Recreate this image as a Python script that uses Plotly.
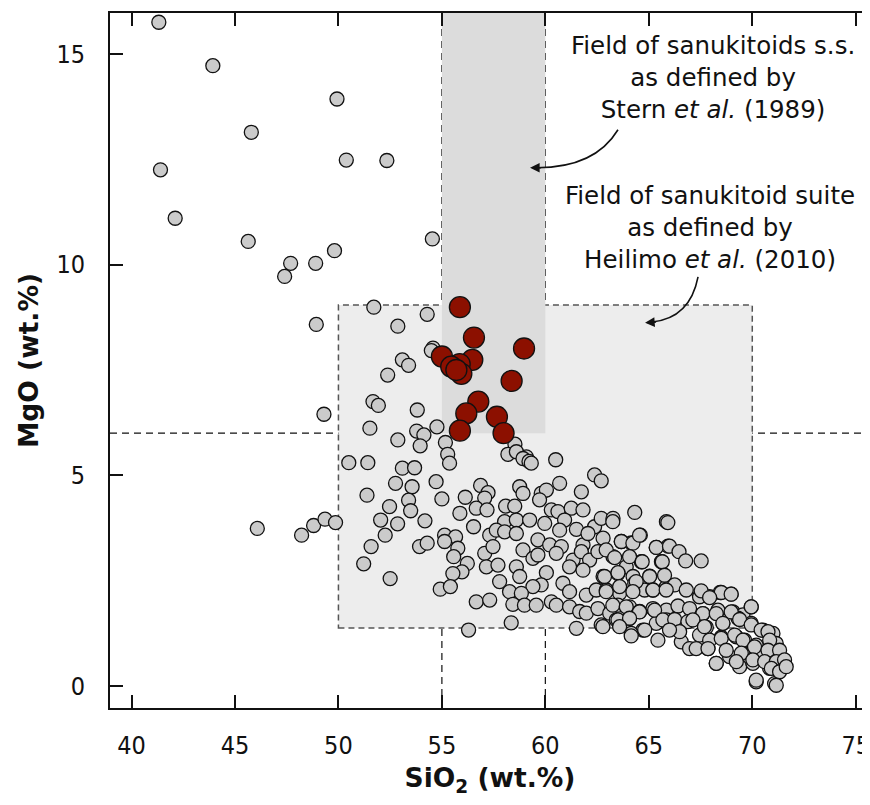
import plotly.graph_objects as go

# ---------------- data ----------------
# grey: comparison samples, grouped by region of the diagram
sio2_upper = [41.32, 43.93, 49.93, 45.79, 41.40, 50.38, 52.34, 42.11, 45.64, 47.69, 48.90, 47.40, 49.81, 54.54]
mgo_upper = [15.75, 14.72, 13.93, 13.14, 12.25, 12.48, 12.47, 11.10, 10.55, 10.03, 10.03, 9.72, 10.33, 10.61]

sio2_mid = [51.71, 54.29, 48.93, 52.87, 54.57, 54.49, 53.09, 53.39, 52.38, 51.67,
            51.93, 49.30, 53.81, 51.52, 54.76, 53.78, 54.13, 52.87, 53.95, 55.17,
            55.28, 55.37, 50.50, 51.42, 53.09, 53.68, 58.53, 59.08]
mgo_mid = [8.99, 8.82, 8.58, 8.54, 8.02, 7.96, 7.74, 7.61, 7.38, 6.75,
           6.66, 6.45, 6.55, 6.12, 6.15, 6.05, 5.96, 5.84, 5.70, 5.78,
           5.50, 5.29, 5.30, 5.30, 5.17, 5.18, 5.74, 5.44]

sio2_left = [46.08, 48.22, 48.80, 49.35, 49.86, 51.38, 52.76, 53.56, 52.47, 53.39,
             53.49, 52.04, 52.86, 52.26, 54.18, 51.58, 53.92, 54.29, 51.22, 52.50,
             54.72, 55.00, 56.13, 55.87, 55.13, 55.66, 55.13, 55.77, 55.57, 56.23,
             55.97, 55.53, 54.92, 55.41, 56.29]
mgo_left = [3.74, 3.58, 3.81, 3.96, 3.88, 4.53, 4.81, 4.73, 4.26, 4.41,
            4.16, 3.94, 3.85, 3.58, 3.92, 3.31, 3.31, 3.39, 2.90, 2.55,
            4.85, 4.44, 4.48, 4.10, 3.58, 3.54, 3.43, 3.27, 3.07, 2.91,
            2.71, 2.67, 2.30, 2.36, 1.33]

sio2_core = [58.19, 58.60, 58.92, 59.21, 59.32, 60.50, 62.38, 62.70, 56.87, 57.23,
             57.07, 56.66, 57.18, 58.76, 58.92, 59.80, 60.05, 60.69, 61.74, 59.72,
             58.08, 58.52, 58.03, 58.60, 59.24, 59.97, 60.29, 60.61, 61.25, 61.82,
             60.93, 60.69, 61.50, 62.38, 62.70, 63.27, 64.32, 65.85, 56.53, 57.31,
             57.63, 58.03, 58.60, 59.64, 60.21, 60.77, 61.82, 62.06, 62.79, 63.67,
             64.15, 64.59, 65.36, 65.93, 57.07, 57.47, 58.92, 59.40, 59.64, 60.53,
             61.34, 61.74, 62.14, 62.54, 63.27, 63.91, 64.64, 65.61, 57.15, 57.71,
             58.60, 60.05, 61.17, 61.82, 62.79, 63.51, 64.24, 65.04, 57.79, 58.76,
             59.80, 59.40, 60.85, 61.17, 61.98, 62.46, 62.95, 63.59, 64.32, 64.80,
             65.20, 65.85, 56.66, 57.31, 58.27, 58.84, 58.43, 58.99, 59.56, 60.29,
             60.53, 61.17, 61.66, 61.98, 62.54, 63.11, 63.51, 64.07, 64.56, 65.20,
             65.85, 58.35, 61.50, 62.70, 63.43, 64.07, 64.72, 65.36, 65.85, 64.15]
mgo_core = [5.50, 5.56, 5.40, 5.33, 5.29, 5.37, 5.01, 4.87, 4.76, 4.59,
            4.46, 4.22, 4.18, 4.73, 4.57, 4.57, 4.65, 4.81, 4.61, 4.42,
            4.27, 4.27, 3.90, 3.94, 3.94, 3.86, 4.18, 4.14, 4.22, 4.18,
            3.94, 3.70, 3.72, 3.78, 3.98, 3.98, 4.12, 3.90, 3.78, 3.58,
            3.70, 3.66, 3.62, 3.47, 3.35, 3.31, 3.35, 3.62, 3.51, 3.43,
            3.40, 3.58, 3.29, 3.32, 3.15, 3.31, 3.23, 3.03, 3.11, 3.15,
            2.99, 3.19, 2.99, 3.19, 3.07, 2.83, 2.95, 2.95, 2.83, 2.87,
            2.83, 2.69, 2.83, 2.75, 2.60, 2.67, 2.60, 2.61, 2.48, 2.60,
            2.40, 2.36, 2.44, 2.24, 2.16, 2.28, 2.28, 2.20, 2.44, 2.28,
            2.28, 2.36, 2.00, 2.04, 2.24, 2.20, 1.94, 1.92, 1.92, 2.00,
            1.92, 1.88, 1.77, 1.73, 1.84, 1.73, 1.92, 1.88, 1.77, 1.84,
            1.80, 1.50, 1.37, 1.45, 1.57, 1.61, 1.33, 1.49, 1.57, 1.25]

sio2_tail = [63.26, 65.92, 63.67, 64.23, 64.55, 65.36, 66.00, 66.46, 62.94, 63.35,
             64.07, 64.68, 65.65, 66.78, 67.53, 62.86, 63.51, 64.39, 65.04, 65.76,
             66.25, 66.81, 67.45, 67.94, 68.45, 68.98, 69.95, 62.94, 63.59, 64.23,
             65.20, 65.84, 63.26, 63.91, 64.55, 65.28, 66.41, 66.97, 67.62, 68.34,
             69.07, 69.55, 62.78, 63.51, 64.07, 64.80, 65.68, 66.25, 66.89, 67.78,
             68.58, 69.31, 69.95, 70.52, 71.00, 63.59, 64.15, 65.44, 66.57, 66.97,
             67.86, 68.50, 69.23, 69.63, 70.19, 70.76, 71.16, 68.26, 68.90, 69.55,
             69.39, 70.03, 70.35, 70.84, 71.16, 70.19, 71.08, 66.49, 66.00, 67.45]
mgo_tail = [3.90, 3.88, 3.43, 3.39, 3.58, 3.29, 3.32, 3.19, 3.23, 3.05,
            3.07, 2.95, 2.95, 2.97, 2.97, 2.60, 2.69, 2.48, 2.60, 2.63,
            2.40, 2.28, 2.12, 2.12, 2.22, 2.18, 1.88, 2.24, 2.36, 2.24,
            2.28, 2.28, 1.92, 1.88, 1.76, 1.80, 1.90, 1.84, 1.72, 1.80,
            1.76, 1.69, 1.41, 1.57, 1.61, 1.33, 1.57, 1.58, 1.53, 1.39,
            1.49, 1.61, 1.49, 1.33, 1.25, 1.41, 1.19, 1.09, 1.05, 0.89,
            0.89, 1.16, 1.17, 1.09, 0.93, 0.85, 1.01, 0.54, 0.70, 0.78,
            0.46, 0.54, 0.70, 0.42, 0.46, 0.10, 0.06, 1.29, 1.33, 1.21]

sio2_end = [67.53, 68.50, 68.98, 67.94, 69.95, 67.61, 68.26, 68.98, 69.39, 67.13,
            67.69, 68.58, 69.95, 70.43, 70.76, 67.94, 68.50, 69.15, 69.55, 70.19,
            70.84, 67.29, 67.86, 68.74, 69.47, 70.11, 70.76, 71.32, 68.26, 69.23,
            70.03, 70.60, 71.16, 71.56, 70.19, 70.92, 71.32, 71.16, 71.64]
mgo_end = [2.26, 2.22, 2.18, 2.10, 1.88, 1.72, 1.72, 1.76, 1.58, 1.57,
           1.41, 1.49, 1.45, 1.33, 1.29, 1.09, 1.13, 1.21, 1.09, 0.97,
           1.09, 0.89, 0.89, 0.85, 0.78, 0.93, 0.85, 0.85, 0.54, 0.58,
           0.62, 0.58, 0.58, 0.62, 0.14, 0.42, 0.34, 0.02, 0.46]

# red: studied samples
sio2_red = [55.87, 56.55, 58.97, 55.00, 56.47, 55.86, 55.45, 55.94, 55.70, 58.37, 56.76, 56.18, 57.66, 55.87, 57.98]
mgo_red = [8.99, 8.27, 8.01, 7.82, 7.74, 7.64, 7.58, 7.41, 7.50, 7.24, 6.75, 6.47, 6.39, 6.06, 6.00]

x_ticks = [40, 45, 50, 55, 60, 65, 70, 75]
y_ticks = [0, 5, 10, 15]

# field limits
ss_sio2 = [55, 60]
ss_mgo_min = 6
suite_sio2 = [50, 70]
suite_mgo = [1.38, 9.04]

x_range = [38.96, 75.69]
y_range = [-0.52, 15.97]

# ---------------- figure ----------------
sio2_grey = sio2_upper + sio2_mid + sio2_left + sio2_core + sio2_tail + sio2_end
mgo_grey = mgo_upper + mgo_mid + mgo_left + mgo_core + mgo_tail + mgo_end
assert len(sio2_grey) == len(mgo_grey), (len(sio2_grey), len(mgo_grey))
assert len(sio2_red) == len(mgo_red)

TICK_FONT = "DejaVu Sans Condensed, DejaVu Sans, sans-serif"
TEXT_FONT = "DejaVu Sans, sans-serif"
INK = "#111111"

fig = go.Figure()
fig.add_trace(go.Scatter(
    x=sio2_grey, y=mgo_grey, mode="markers", showlegend=False, hoverinfo="skip",
    marker=dict(size=14, color="#cbcbcb", line=dict(color=INK, width=1.3)),
))
fig.add_trace(go.Scatter(
    x=sio2_red, y=mgo_red, mode="markers", showlegend=False, hoverinfo="skip",
    marker=dict(size=21, color="#8c1000", line=dict(color=INK, width=1.3)),
))

shapes = [
    # Heilimo et al. (2010) field
    dict(type="rect", xref="x", yref="y", layer="below",
         x0=suite_sio2[0], x1=suite_sio2[1], y0=suite_mgo[0], y1=suite_mgo[1],
         fillcolor="#ededed", line=dict(color="#555555", width=1.5, dash="6px,4px")),
    # Stern et al. (1989) field
    dict(type="rect", xref="x", yref="y", layer="below",
         x0=ss_sio2[0], x1=ss_sio2[1], y0=ss_mgo_min, y1=y_range[1],
         fillcolor="#dcdcdc", line=dict(width=0)),
    dict(type="line", xref="x", yref="y domain", layer="below",
         x0=ss_sio2[0], x1=ss_sio2[0], y0=0, y1=1,
         line=dict(color=INK, width=1.2, dash="7px,5px")),
    dict(type="line", xref="x", yref="y domain", layer="below",
         x0=ss_sio2[1], x1=ss_sio2[1], y0=0, y1=1,
         line=dict(color=INK, width=1.2, dash="7px,5px")),
    dict(type="line", xref="x domain", yref="y", layer="below",
         x0=0, x1=1, y0=ss_mgo_min, y1=ss_mgo_min,
         line=dict(color=INK, width=1.2, dash="7px,5px")),
    # curved leader lines
    dict(type="path", xref="x", yref="y",
         path="M 63.51 13.20 Q 62.40 12.30 59.60 12.30",
         line=dict(color=INK, width=1.6)),
    dict(type="path", xref="x", yref="y",
         path="M 67.38 9.71 Q 66.99 8.73 65.16 8.64",
         line=dict(color=INK, width=1.6)),
]

annotations = [
    dict(x=68.1, y=14.43, xref="x", yref="y", showarrow=False, align="center",
         text="Field of sanukitoids s.s.<br>as defined by<br>Stern <i>et al.</i> (1989)",
         font=dict(family=TEXT_FONT, size=24.5, color=INK)),
    dict(x=67.96, y=10.87, xref="x", yref="y", showarrow=False, align="center",
         text="Field of sanukitoid suite<br>as defined by<br>Heilimo <i>et al.</i> (2010)",
         font=dict(family=TEXT_FONT, size=24.5, color=INK)),
    # arrow heads
    dict(x=59.26, y=12.30, xref="x", yref="y", text=" ", showarrow=True,
         ax=14, ay=0, arrowhead=2, arrowsize=1.2, arrowwidth=1.6, arrowcolor=INK),
    dict(x=64.82, y=8.62, xref="x", yref="y", text=" ", showarrow=True,
         ax=14, ay=-1, arrowhead=2, arrowsize=1.2, arrowwidth=1.6, arrowcolor=INK),
]

axis_common = dict(
    showgrid=False, zeroline=False, showline=True, linewidth=1.8, linecolor=INK,
    ticks="inside", ticklen=13, tickwidth=1.5, tickcolor=INK,
    tickfont=dict(family=TICK_FONT, size=25, color=INK), automargin=False,
    ticklabeloverflow="allow",
)

# page body adds an 8px margin: figure sized so the page needs no scrollbars
fig.update_layout(
    width=862, height=789,
    margin=dict(l=102, r=0, t=5, b=89),
    paper_bgcolor="white", plot_bgcolor="white",
    shapes=shapes, annotations=annotations, showlegend=False,
    xaxis=dict(range=x_range, tickvals=x_ticks, ticklabelstandoff=14, mirror="ticks",
               title=dict(text="<b>SiO<sub>2</sub> (wt.%)</b>", standoff=14,
                          font=dict(family=TEXT_FONT, size=26.5, color=INK)),
               **axis_common),
    yaxis=dict(range=y_range, tickvals=y_ticks, ticklabelstandoff=18, mirror=False,
               title=dict(text="<b>MgO (wt.%)</b>", standoff=10,
                          font=dict(family=TEXT_FONT, size=26.5, color=INK)),
               **axis_common),
)

fig.write_html("out.html")
